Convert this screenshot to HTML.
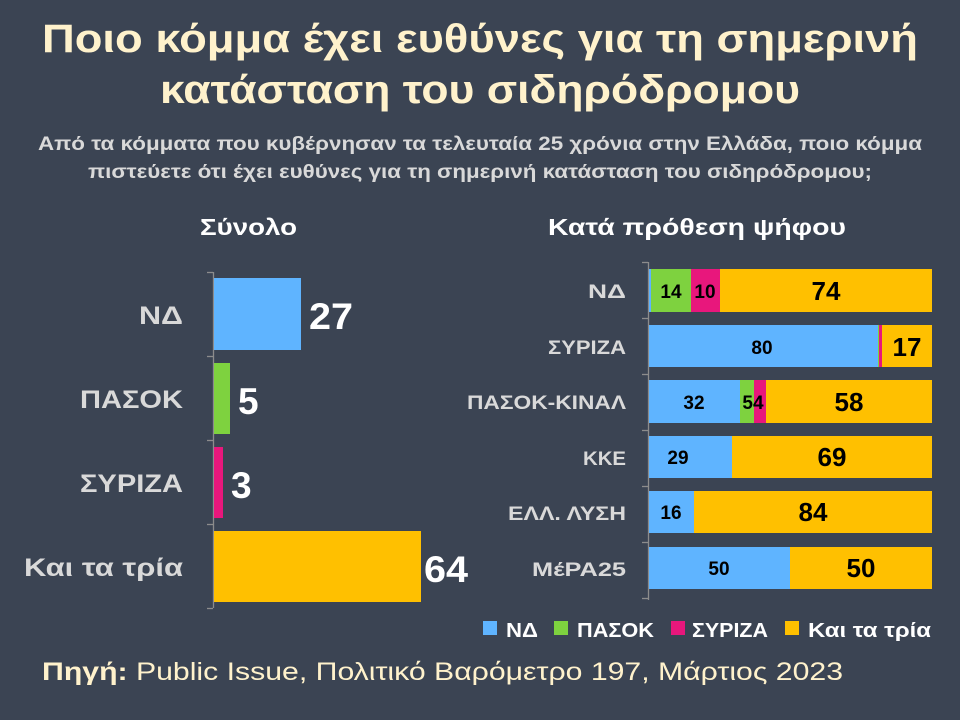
<!DOCTYPE html>
<html><head><meta charset="utf-8"><style>
html,body{margin:0;padding:0;background:#3b4453;}
svg{display:block;font-family:"Liberation Sans","DejaVu Sans",sans-serif;}
</style></head><body>
<svg width="960" height="720" viewBox="0 0 960 720" xmlns="http://www.w3.org/2000/svg">
<rect width="960" height="720" fill="#3b4453"/>
<g fill="#fff2cc" font-weight="bold" font-size="40" text-anchor="middle">
<text x="480" y="52" textLength="876" lengthAdjust="spacingAndGlyphs">Ποιο κόμμα έχει ευθύνες για τη σημερινή</text>
<text x="480" y="103" textLength="640" lengthAdjust="spacingAndGlyphs">κατάσταση του σιδηρόδρομου</text>
</g>
<g fill="#d9d9d9" font-weight="bold" font-size="19" text-anchor="middle">
<text x="480" y="150" textLength="884" lengthAdjust="spacingAndGlyphs">Από τα κόμματα που κυβέρνησαν τα τελευταία 25 χρόνια στην Ελλάδα, ποιο κόμμα</text>
<text x="480" y="178" textLength="784" lengthAdjust="spacingAndGlyphs">πιστεύετε ότι έχει ευθύνες για τη σημερινή κατάσταση του σιδηρόδρομου;</text>
</g>
<g fill="#ffffff" font-weight="bold" font-size="23">
<text x="200" y="235" textLength="97" lengthAdjust="spacingAndGlyphs">Σύνολο</text>
<text x="548" y="235" textLength="298" lengthAdjust="spacingAndGlyphs">Κατά πρόθεση ψήφου</text>
</g>
<!-- left chart -->
<g stroke="#8c8c8c" stroke-width="1.3">
<line x1="213.5" y1="272" x2="213.5" y2="608"/>
<line x1="207" y1="272.5" x2="213" y2="272.5"/>
<line x1="207" y1="356.5" x2="213" y2="356.5"/>
<line x1="207" y1="440.5" x2="213" y2="440.5"/>
<line x1="207" y1="524.5" x2="213" y2="524.5"/>
<line x1="207" y1="608.5" x2="213" y2="608.5"/>
</g>
<rect x="214" y="278" width="87" height="72" fill="#5fb4ff"/>
<rect x="214" y="363" width="16" height="71" fill="#7ed23f"/>
<rect x="214" y="447" width="9" height="71" fill="#e8177c"/>
<rect x="214" y="531" width="207" height="71" fill="#ffc000"/>
<g fill="#ffffff" font-weight="bold" font-size="37">
<text x="309" y="329" textLength="44" lengthAdjust="spacingAndGlyphs">27</text>
<text x="238" y="414">5</text>
<text x="231" y="498">3</text>
<text x="424" y="582" textLength="44" lengthAdjust="spacingAndGlyphs">64</text>
</g>
<g fill="#d9d9d9" font-weight="bold" font-size="25" text-anchor="end">
<text x="183" y="324" textLength="44" lengthAdjust="spacingAndGlyphs">ΝΔ</text>
<text x="183" y="408" textLength="103" lengthAdjust="spacingAndGlyphs">ΠΑΣΟΚ</text>
<text x="183" y="492" textLength="103" lengthAdjust="spacingAndGlyphs">ΣΥΡΙΖΑ</text>
<text x="183" y="576" textLength="159" lengthAdjust="spacingAndGlyphs">Και τα τρία</text>
</g>
<!-- right chart -->
<g stroke="#8c8c8c" stroke-width="1.3">
<line x1="648.5" y1="262" x2="648.5" y2="600"/>
<line x1="642" y1="262.5" x2="648" y2="262.5"/>
<line x1="642" y1="318.5" x2="648" y2="318.5"/>
<line x1="642" y1="374.5" x2="648" y2="374.5"/>
<line x1="642" y1="430.5" x2="648" y2="430.5"/>
<line x1="642" y1="486.5" x2="648" y2="486.5"/>
<line x1="642" y1="542.5" x2="648" y2="542.5"/>
<line x1="642" y1="598.5" x2="648" y2="598.5"/>
</g>
<rect x="649" y="269" width="3" height="43" fill="#5fb4ff"/>
<rect x="651" y="269" width="40" height="43" fill="#7ed23f"/>
<rect x="691" y="269" width="29" height="43" fill="#e8177c"/>
<rect x="720" y="269" width="212" height="43" fill="#ffc000"/>
<rect x="649" y="325" width="229" height="42" fill="#5fb4ff"/>
<rect x="878" y="325" width="1" height="42" fill="#7ed23f"/>
<rect x="879" y="325" width="3" height="42" fill="#e8177c"/>
<rect x="882" y="325" width="50" height="42" fill="#ffc000"/>
<rect x="649" y="380" width="91" height="43" fill="#5fb4ff"/>
<rect x="740" y="380" width="14" height="43" fill="#7ed23f"/>
<rect x="754" y="380" width="12" height="43" fill="#e8177c"/>
<rect x="766" y="380" width="166" height="43" fill="#ffc000"/>
<rect x="649" y="436" width="83" height="42" fill="#5fb4ff"/>
<rect x="732" y="436" width="200" height="42" fill="#ffc000"/>
<rect x="649" y="491" width="45" height="42" fill="#5fb4ff"/>
<rect x="694" y="491" width="238" height="42" fill="#ffc000"/>
<rect x="649" y="547" width="141" height="42" fill="#5fb4ff"/>
<rect x="790" y="547" width="142" height="42" fill="#ffc000"/>
<g fill="#000" font-weight="bold" font-size="19" text-anchor="middle">
<text x="671" y="298">14</text>
<text x="705" y="298">10</text>
<text x="762" y="354">80</text>
<text x="694" y="409">32</text>
<text x="753" y="409">54</text>
<text x="678" y="464">29</text>
<text x="671" y="519">16</text>
<text x="719" y="575">50</text>
</g>
<g fill="#000" font-weight="bold" font-size="26" text-anchor="middle">
<text x="826" y="300">74</text>
<text x="907" y="356">17</text>
<text x="849" y="411">58</text>
<text x="832" y="466">69</text>
<text x="813" y="521">84</text>
<text x="861" y="577">50</text>
</g>
<g fill="#d9d9d9" font-weight="bold" font-size="19" text-anchor="end">
<text x="626" y="298" textLength="38" lengthAdjust="spacingAndGlyphs">ΝΔ</text>
<text x="626" y="354" textLength="78" lengthAdjust="spacingAndGlyphs">ΣΥΡΙΖΑ</text>
<text x="626" y="409" textLength="159" lengthAdjust="spacingAndGlyphs">ΠΑΣΟΚ-ΚΙΝΑΛ</text>
<text x="626" y="465" textLength="43" lengthAdjust="spacingAndGlyphs">ΚΚΕ</text>
<text x="626" y="520" textLength="118" lengthAdjust="spacingAndGlyphs">ΕΛΛ. ΛΥΣΗ</text>
<text x="626" y="576" textLength="94" lengthAdjust="spacingAndGlyphs">ΜέΡΑ25</text>
</g>
<rect x="483" y="621" width="14" height="14" fill="#5fb4ff"/>
<rect x="554" y="621" width="14" height="14" fill="#7ed23f"/>
<rect x="671" y="621" width="14" height="14" fill="#e8177c"/>
<rect x="785" y="621" width="14" height="14" fill="#ffc000"/>
<g fill="#ffffff" font-weight="bold" font-size="20">
<text x="506" y="637" textLength="32" lengthAdjust="spacingAndGlyphs">ΝΔ</text>
<text x="577" y="637" textLength="77" lengthAdjust="spacingAndGlyphs">ΠΑΣΟΚ</text>
<text x="692" y="637" textLength="76" lengthAdjust="spacingAndGlyphs">ΣΥΡΙΖΑ</text>
<text x="808" y="637" textLength="123" lengthAdjust="spacingAndGlyphs">Και τα τρία</text>
</g>
<text x="42" y="680" fill="#fff2cc" font-size="25" textLength="801" lengthAdjust="spacingAndGlyphs"><tspan font-weight="bold">Πηγή:</tspan> Public Issue, Πολιτικό Βαρόμετρο 197, Μάρτιος 2023</text>
</svg>
</body></html>
